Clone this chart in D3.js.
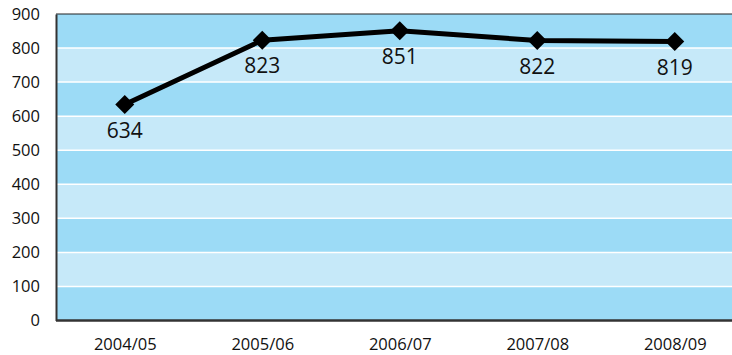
<!DOCTYPE html>
<html>
<head>
<meta charset="utf-8">
<script src="https://cdn.jsdelivr.net/npm/d3@7"></script>
<style>
  html, body { margin: 0; padding: 0; background: #fff; }
  svg { display: block; font-family: "Open Sans", "Noto Sans", sans-serif; }
</style>
</head>
<body>
<svg id="chart" width="732" height="355"></svg>
<script>
// Yearly totals
const years = ["2004/05", "2005/06", "2006/07", "2007/08", "2008/09"];
const totals = [634, 823, 851, 822, 819];
const yTicks = [0, 100, 200, 300, 400, 500, 600, 700, 800, 900];

const svg = d3.select("#chart");
const plot = { left: 56, top: 14, bottom: 320.5, right: 743.5 };

const x = d3.scalePoint().domain(years).range([plot.left, plot.right]).padding(0.5);
const y = d3.scaleLinear().domain([0, 900]).range([plot.bottom, plot.top]);

// Alternating horizontal bands
const bands = yTicks.slice(0, -1);
svg.append("g").selectAll("rect").data(bands).join("rect")
  .attr("x", plot.left).attr("width", plot.right - plot.left)
  .attr("y", d => y(d + 100)).attr("height", d => y(d) - y(d + 100))
  .attr("fill", d => (d / 100) % 2 === 0 ? "#9cdbf6" : "#c6e9f9");

// White gridlines
svg.append("g").selectAll("line").data(yTicks.slice(1, -1)).join("line")
  .attr("x1", plot.left).attr("x2", plot.right)
  .attr("y1", d => y(d)).attr("y2", d => y(d))
  .attr("stroke", "#fff").attr("stroke-width", 1.5);

// Frame: top border, left and bottom axes
svg.append("line").attr("x1", plot.left).attr("x2", plot.right)
  .attr("y1", plot.top).attr("y2", plot.top)
  .attr("stroke", "#222").attr("stroke-width", 1.2);

const yAxis = svg.append("g").attr("transform", `translate(${plot.left},0)`)
  .call(d3.axisLeft(y).tickValues(yTicks).tickSize(0).tickPadding(16));
yAxis.select(".domain").attr("stroke", "#333").attr("stroke-width", 2);
yAxis.selectAll("text").attr("font-size", 16.5).attr("fill", "#111")
  .attr("font-family", "Open Sans, sans-serif");

const xAxis = svg.append("g").attr("transform", `translate(0,${plot.bottom})`)
  .call(d3.axisBottom(x).tickSize(0).tickPadding(17.5));
xAxis.select(".domain").attr("stroke", "#333").attr("stroke-width", 2.5)
  .attr("d", `M${plot.left},0H${plot.right}`);
xAxis.selectAll("text").attr("font-size", 16.5).attr("fill", "#111")
  .attr("font-family", "Open Sans, sans-serif");

// Line
const data = years.map((yr, i) => ({ yr, v: totals[i] }));
svg.append("path").datum(data)
  .attr("fill", "none").attr("stroke", "#000").attr("stroke-width", 5)
  .attr("stroke-linejoin", "round")
  .attr("d", d3.line().x(d => x(d.yr)).y(d => y(d.v)));

// Diamond markers
svg.append("g").selectAll("path").data(data).join("path")
  .attr("transform", d => `translate(${x(d.yr)},${y(d.v)})`)
  .attr("d", "M0,-9.5L9.5,0L0,9.5L-9.5,0Z")
  .attr("fill", "#000");

// Value labels
svg.append("g").selectAll("text").data(data).join("text")
  .attr("x", d => x(d.yr)).attr("y", d => y(d.v) + 33)
  .attr("text-anchor", "middle").attr("font-size", 21).attr("fill", "#111")
  .text(d => d.v);
</script>
</body>
</html>
